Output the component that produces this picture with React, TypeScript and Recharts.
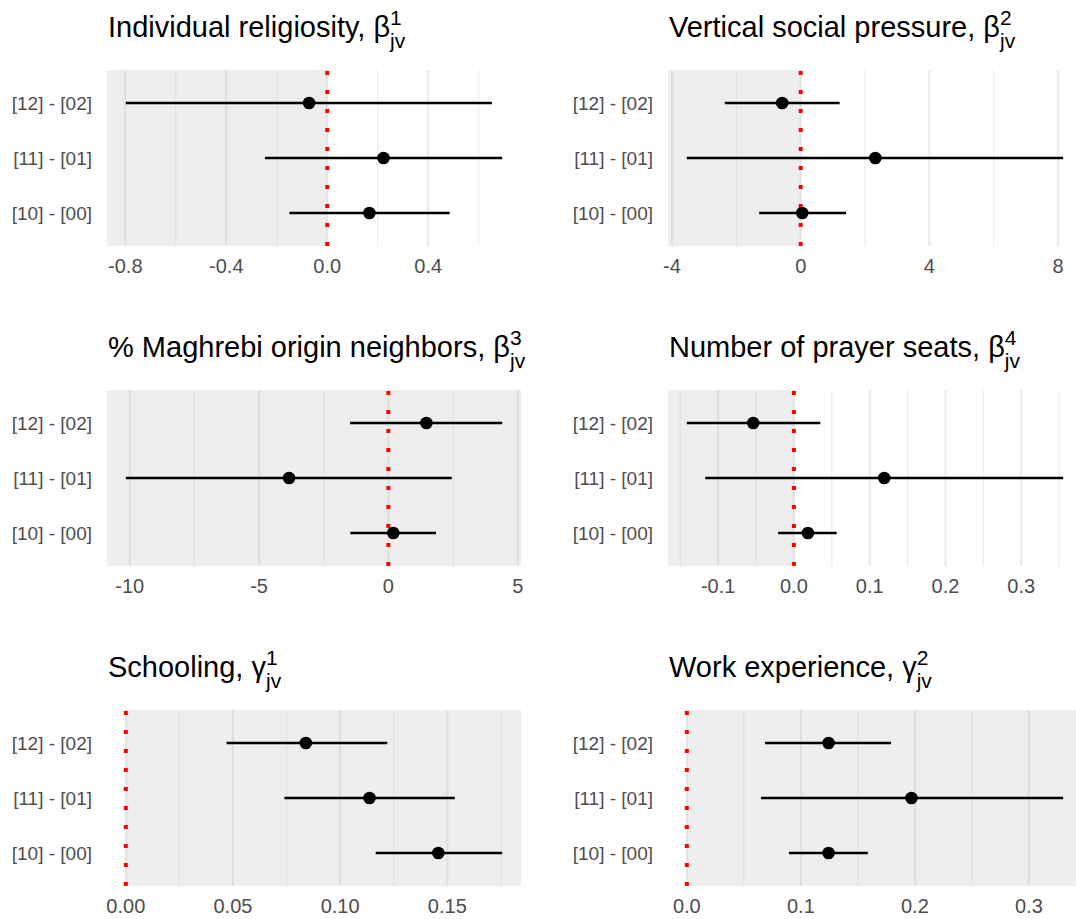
import React from "react";
import { ScatterChart, Scatter, XAxis, YAxis, ErrorBar, ReferenceLine, ReferenceArea } from "recharts";

// ---- data ----
const rowLabels = ["[10] - [00]", "[11] - [01]", "[12] - [02]"];
const rowPositions = [1, 2, 3];

const religEst = [0.167, 0.223, -0.072];
const religLow = [-0.15, -0.247, -0.798];
const religHigh = [0.485, 0.693, 0.652];
const religTicks = [-0.8, -0.4, 0.0, 0.4];
const religTickLabels = ["-0.8", "-0.4", "0.0", "0.4"];

const pressEst = [0.05, 2.32, -0.575];
const pressLow = [-1.29, -3.54, -2.36];
const pressHigh = [1.41, 8.16, 1.21];
const pressTicks = [-4, 0, 4, 8];
const pressTickLabels = ["-4", "0", "4", "8"];

const maghEst = [0.19, -3.84, 1.47];
const maghLow = [-1.47, -10.15, -1.48];
const maghHigh = [1.84, 2.45, 4.4];
const maghTicks = [-10, -5, 0, 5];
const maghTickLabels = ["-10", "-5", "0", "5"];

const seatsEst = [0.0185, 0.1192, -0.0537];
const seatsLow = [-0.0208, -0.117, -0.1413];
const seatsHigh = [0.0564, 0.3553, 0.0348];
const seatsTicks = [-0.1, 0.0, 0.1, 0.2, 0.3];
const seatsTickLabels = ["-0.1", "0.0", "0.1", "0.2", "0.3"];

const schoolEst = [0.1458, 0.1137, 0.084];
const schoolLow = [0.1166, 0.074, 0.047];
const schoolHigh = [0.1756, 0.1535, 0.122];
const schoolTicks = [0.0, 0.05, 0.1, 0.15];
const schoolTickLabels = ["0.00", "0.05", "0.10", "0.15"];

const workEst = [0.1243, 0.197, 0.1243];
const workLow = [0.0895, 0.065, 0.0686];
const workHigh = [0.1587, 0.33, 0.179];
const workTicks = [0.0, 0.1, 0.2, 0.3];
const workTickLabels = ["0.0", "0.1", "0.2", "0.3"];

const FONT = '"Liberation Sans", Arial, Helvetica, sans-serif';

type Panel = {
  title: string;
  greek: string;
  sup: string;
  est: number[];
  low: number[];
  high: number[];
  ticks: number[];
  tickLabels: string[];
  shade: [string, string];
  col: number;
  row: number;
};

const panels: Panel[] = [
  { title: "Individual religiosity, ", greek: "β", sup: "1", est: religEst, low: religLow, high: religHigh, ticks: religTicks, tickLabels: religTickLabels, shade: ["min", "zero"], col: 0, row: 0 },
  { title: "Vertical social pressure, ", greek: "β", sup: "2", est: pressEst, low: pressLow, high: pressHigh, ticks: pressTicks, tickLabels: pressTickLabels, shade: ["min", "zero"], col: 1, row: 0 },
  { title: "% Maghrebi origin neighbors, ", greek: "β", sup: "3", est: maghEst, low: maghLow, high: maghHigh, ticks: maghTicks, tickLabels: maghTickLabels, shade: ["min", "max"], col: 0, row: 1 },
  { title: "Number of prayer seats, ", greek: "β", sup: "4", est: seatsEst, low: seatsLow, high: seatsHigh, ticks: seatsTicks, tickLabels: seatsTickLabels, shade: ["min", "zero"], col: 1, row: 1 },
  { title: "Schooling, ", greek: "γ", sup: "1", est: schoolEst, low: schoolLow, high: schoolHigh, ticks: schoolTicks, tickLabels: schoolTickLabels, shade: ["zero", "max"], col: 0, row: 2 },
  { title: "Work experience, ", greek: "γ", sup: "2", est: workEst, low: workLow, high: workHigh, ticks: workTicks, tickLabels: workTickLabels, shade: ["zero", "max"], col: 1, row: 2 },
];

// ---- layout ----
const COL_LEFT = [0, 561];
const PANEL_TOP = [70, 390, 710];
const YAXIS_W = 107;
const PLOT_W = 414;
const RIGHT_PAD = 24;
const CHART_W = YAXIS_W + PLOT_W + RIGHT_PAD;
const PLOT_H = 176;
const XAXIS_H = 44;
const TITLE_SIZE = 29;
const SCRIPT_SIZE = 21;

function PanelChart({ p }: { p: Panel }) {
  const lo = Math.min(0, ...p.low);
  const hi = Math.max(0, ...p.high);
  const pad = 0.05 * (hi - lo);
  const dMin = lo - pad;
  const dMax = hi + pad;
  const step = p.ticks[1] - p.ticks[0];
  const minor: number[] = [];
  for (let v = p.ticks[0] - step * 10.5; v < dMax; v += step) {
    if (v > dMin) minor.push(v);
  }
  const major = p.ticks.filter((v) => v >= dMin && v <= dMax);
  const data = rowPositions.map((y, i) => ({
    y,
    x: p.est[i],
    err: [p.est[i] - p.low[i], p.high[i] - p.est[i]],
  }));
  const resolve = (s: string) => (s === "min" ? dMin : s === "max" ? dMax : 0);
  const labelFor = (v: number) => {
    const i = p.ticks.findIndex((t) => Math.abs(t - v) < 1e-9);
    return i >= 0 ? p.tickLabels[i] : String(v);
  };
  const rowLabel = (v: number) => {
    const i = rowPositions.indexOf(v);
    return i >= 0 ? rowLabels[i] : "";
  };
  return (
    <ScatterChart width={CHART_W} height={PLOT_H + XAXIS_H} margin={{ top: 0, right: RIGHT_PAD, bottom: 0, left: 0 }}>
      <XAxis
        type="number"
        dataKey="x"
        domain={[dMin, dMax]}
        allowDataOverflow
        ticks={p.ticks}
        tickFormatter={labelFor}
        axisLine={false}
        tickLine={false}
        tickSize={0}
        tickMargin={12.5}
        height={XAXIS_H}
        interval={0}
        tick={{ fill: "#4D4D4D", fontSize: 20, fontFamily: FONT }}
      />
      <YAxis
        type="number"
        dataKey="y"
        domain={[0.4, 3.6]}
        allowDataOverflow
        ticks={rowPositions}
        tickFormatter={rowLabel}
        axisLine={false}
        tickLine={false}
        tickSize={0}
        tickMargin={15}
        width={YAXIS_W}
        interval={0}
        tick={{ fill: "#4D4D4D", fontSize: 19, fontFamily: FONT }}
      />
      {minor.map((v) => (
        <ReferenceLine key={"mi" + v} x={v} stroke="#EBEBEB" strokeWidth={1.1} zIndex={10} ifOverflow="hidden" />
      ))}
      {major.map((v) => (
        <ReferenceLine key={"ma" + v} x={v} stroke="#EBEBEB" strokeWidth={2.1} zIndex={11} ifOverflow="hidden" />
      ))}
      <ReferenceArea
        x1={resolve(p.shade[0])}
        x2={resolve(p.shade[1])}
        fill="#BEBEBE"
        fillOpacity={0.26}
        stroke="none"
        zIndex={20}
        ifOverflow="hidden"
      />
      <ReferenceLine x={0} stroke="#FF0000" strokeWidth={4} strokeDasharray="4 15" zIndex={30} />
      <Scatter
        data={data}
        isAnimationActive={false}
        shape={(s: any) => <circle cx={s.cx} cy={s.cy} r={6.3} fill="#000000" />}
      >
        <ErrorBar dataKey="err" direction="x" width={0} stroke="#000000" strokeWidth={2.6} isAnimationActive={false} />
      </Scatter>
    </ScatterChart>
  );
}

export default function App() {
  return (
    <div
      style={{
        position: "absolute",
        left: 0,
        top: 0,
        width: 1076,
        height: 919,
        overflow: "hidden",
        background: "#FFFFFF",
        fontFamily: FONT,
      }}
    >
      {panels.map((p, i) => (
        <div
          key={i}
          style={{ position: "absolute", left: COL_LEFT[p.col], top: PANEL_TOP[p.row], width: CHART_W, height: PLOT_H + XAXIS_H }}
        >
          <PanelChart p={p} />
        </div>
      ))}
      <svg width={1076} height={919} style={{ position: "absolute", left: 0, top: 0, pointerEvents: "none" }}>
        {panels.map((p, i) => (
          <text
            key={i}
            x={COL_LEFT[p.col] + YAXIS_W + 1}
            y={PANEL_TOP[p.row] - 33}
            fontSize={TITLE_SIZE}
            fill="#000000"
            fontFamily={FONT}
          >
            {p.title}
            {p.greek}
            <tspan dy={-12} fontSize={SCRIPT_SIZE}>
              {p.sup}
            </tspan>
            <tspan dx={-0.556 * SCRIPT_SIZE} dy={23} fontSize={SCRIPT_SIZE}>
              jv
            </tspan>
          </text>
        ))}
      </svg>
    </div>
  );
}
